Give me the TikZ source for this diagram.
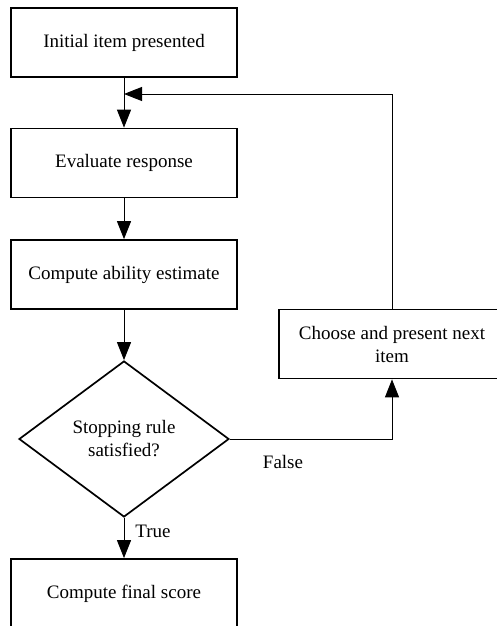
\documentclass[tikz,border=0pt]{standalone}
\usepackage{fontspec}
\setmainfont{Liberation Serif}
\usetikzlibrary{shapes.geometric,arrows.meta}
\begin{document}
\begin{tikzpicture}[x=1pt,y=-1pt,
  every node/.style={font=\fontsize{19}{23}\selectfont},
  box/.style={draw,line width=1.7pt,minimum width=226pt,minimum height=69pt,inner sep=0pt,align=center},
  dia/.style={draw,diamond,line width=1.7pt,minimum width=210pt,minimum height=156pt,inner sep=0pt,align=center},
  conn/.style={line width=1pt,-{Triangle[length=18pt,width=14pt]}},
  lbl/.style={inner sep=0pt}]
\useasboundingbox (0,0) rectangle (497,626);
\node[box] (b1) at (124,42.5) {Initial item presented};
\node[box] (b2) at (124,163) {Evaluate response};
\node[box] (b3) at (124,274.5) {Compute ability estimate};
\node[dia] (d) at (124,439) {Stopping rule\\satisfied?};
\node[box] (b4) at (392,344) {Choose and present next\\item};
\node[box] (b5) at (124,593.5) {Compute final score};
\coordinate (j) at (124,94);
\draw[line width=1pt] (b1.south) -- (j);
\draw[conn] (j) -- (b2.north);
\draw[conn] (b2.south) -- (b3.north);
\draw[conn] (b3.south) -- (d.north);
\draw[conn] (d.south) -- (b5.north);
\node[lbl] (t) at (153,531) {True};
\draw[conn] (d.east) -| (b4.south);
\node[lbl] (f) at (283,462) {False};
\draw[conn] (b4.north) |- (j);
\end{tikzpicture}
\end{document}
